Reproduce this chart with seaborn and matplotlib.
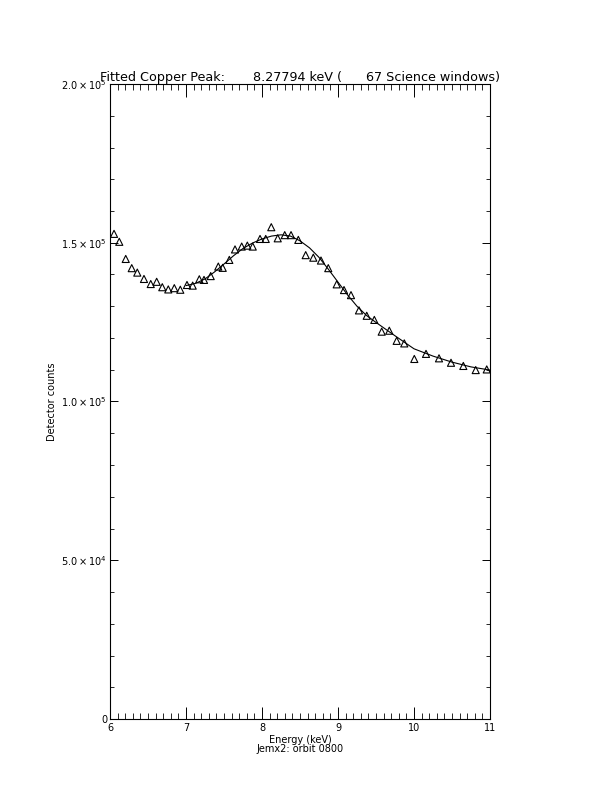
import numpy as np
import pandas as pd
import seaborn as sns
import matplotlib
matplotlib.use("Agg")
import matplotlib.pyplot as plt
from matplotlib.ticker import MultipleLocator

# measured points (energy in keV, counts)
energy = [6.053, 6.122, 6.207, 6.286, 6.359, 6.447, 6.536, 6.614, 6.688, 6.767,
          6.846, 6.925, 7.013, 7.088, 7.175, 7.237, 7.325, 7.425, 7.483, 7.570,
          7.645, 7.733, 7.807, 7.878, 7.974, 8.049, 8.122, 8.207, 8.299, 8.382,
          8.478, 8.575, 8.675, 8.776, 8.872, 8.983, 9.079, 9.171, 9.276, 9.378,
          9.478, 9.575, 9.675, 9.772, 9.872, 10.004, 10.158, 10.329, 10.487,
          10.649, 10.812, 10.957]
counts = [152.8, 150.3, 144.9, 142.0, 140.6, 138.6, 137.0, 137.7, 136.0, 135.3,
          135.7, 135.2, 136.7, 136.5, 138.5, 138.3, 139.5, 142.5, 142.1, 144.6,
          147.9, 148.8, 149.1, 148.8, 151.2, 151.2, 154.9, 151.4, 152.4, 152.4,
          150.9, 146.1, 145.3, 144.4, 142.0, 136.9, 135.1, 133.5, 128.7, 127.0,
          125.7, 122.0, 122.3, 119.1, 118.3, 113.4, 115.0, 113.6, 112.2, 111.2,
          109.9, 110.1]
counts = [c * 1000 for c in counts]

# fitted curve
fit_energy = [7.00, 7.125, 7.25, 7.375, 7.50, 7.625, 7.75, 7.875, 8.00, 8.125,
              8.25, 8.375, 8.50, 8.625, 8.75, 8.875, 9.00, 9.125, 9.25, 9.375,
              9.50, 9.75, 10.00, 10.25, 10.50, 10.75, 11.00]
fit_counts = [136.5, 137.2, 138.6, 140.8, 143.3, 145.9, 148.2, 149.9, 151.2, 152.1,
              152.5, 152.1, 150.6, 148.4, 145.4, 141.6, 137.6, 133.6, 130.0, 127.1,
              124.9, 120.7, 116.6, 114.3, 112.4, 110.9, 109.9]
fit_counts = [c * 1000 for c in fit_counts]

ytick_vals = [0, 5e4, 1e5, 1.5e5, 2e5]
ytick_text = ["0", r"$5.0\times10^{4}$", r"$1.0\times10^{5}$",
              r"$1.5\times10^{5}$", r"$2.0\times10^{5}$"]
xtick_vals = [6, 7, 8, 9, 10, 11]

sns.set_theme(style="ticks")
plt.rcParams['font.family'] = ['DejaVu Sans']
plt.rcParams['mathtext.fontset'] = 'dejavusans'
plt.rcParams['text.color'] = 'black'
plt.rcParams['axes.labelcolor'] = 'black'

fig = plt.figure(figsize=(6.12, 7.92), dpi=100)
ax = fig.add_axes([110 / 612, 1 - 719 / 792, 380 / 612, 635 / 792])

pts = pd.DataFrame({"energy": energy, "counts": counts})
fit = pd.DataFrame({"energy": fit_energy, "counts": fit_counts})

sns.lineplot(data=fit, x="energy", y="counts", color="black", lw=0.8, ax=ax)
sns.scatterplot(data=pts, x="energy", y="counts", marker="^", s=26,
                facecolor="none", edgecolor="black", linewidth=0.8, ax=ax)

ax.set_xlim(6, 11)
ax.set_ylim(0, 2e5)
ax.set_xticks(xtick_vals)
ax.set_xticklabels([str(v) for v in xtick_vals], fontsize=7)
ax.set_yticks(ytick_vals)
ax.set_yticklabels(ytick_text, fontsize=7)
ax.xaxis.set_minor_locator(MultipleLocator(0.1))
ax.yaxis.set_minor_locator(MultipleLocator(1e4))
ax.tick_params(axis="x", which="major", direction="in", length=9, width=0.7,
               top=True, bottom=True, pad=3, colors="black")
ax.tick_params(axis="x", which="minor", direction="in", length=4.5, width=0.7,
               top=True, bottom=True)
ax.tick_params(axis="y", which="major", direction="in", length=5.5, width=0.7,
               left=True, right=True, pad=2, colors="black")
ax.tick_params(axis="y", which="minor", direction="in", length=2.7, width=0.7,
               left=True, right=True)
for s in ax.spines.values():
    s.set_visible(True)
    s.set_linewidth(0.8)
    s.set_color("black")

ax.set_xlabel("Energy (keV)\nJemx2: orbit 0800", fontsize=7, labelpad=1,
              linespacing=0.95)
ax.set_ylabel("Detector counts", fontsize=7, labelpad=3)
ax.set_title("Fitted Copper Peak:       8.27794 keV (      67 Science windows)",
             fontsize=9.2, pad=2, color="black")

fig.savefig("out.png", dpi=100, facecolor="white")
